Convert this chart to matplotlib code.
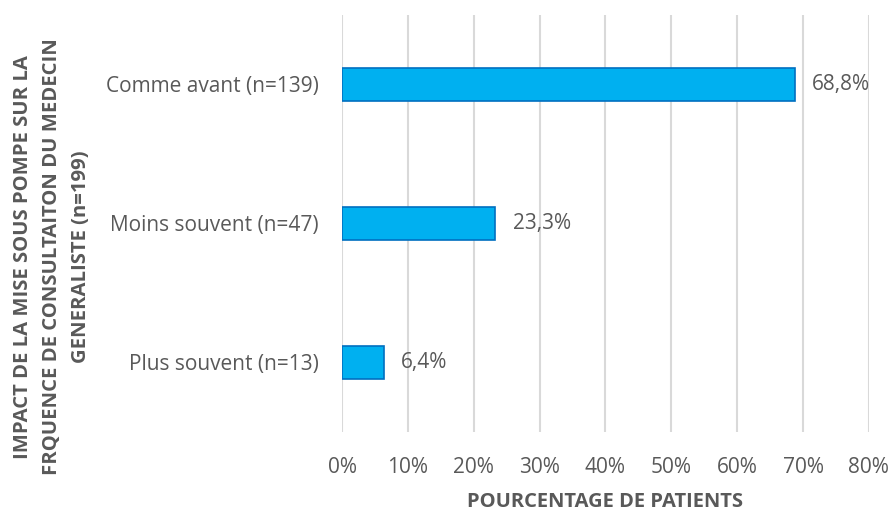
import matplotlib
matplotlib.use("Agg")
import matplotlib.pyplot as plt
from matplotlib.ticker import FuncFormatter

plt.rcParams['font.family'] = ['Open Sans', 'DejaVu Sans']

# data, bottom to top
categories = ["Plus souvent (n=13)", "Moins souvent (n=47)", "Comme avant (n=139)"]
values = [6.4, 23.3, 68.8]
value_labels = ["6,4%", "23,3%", "68,8%"]

grey = "#595959"
fs = 15

fig = plt.figure(figsize=(8.93, 5.14), dpi=100)
ax = fig.add_axes([0.383, 0.160, 0.590, 0.811])

ax.barh(categories, values, height=0.24, color="#00B0F0", edgecolor="#0070C0", linewidth=1.2, zorder=3)
for i, (v, lab) in enumerate(zip(values, value_labels)):
    ax.text(v + 2.6, i, lab, va="center", ha="left", fontsize=fs, color=grey)

ax.set_xlim(0, 80)
ax.set_ylim(-0.5, 2.5)
ax.set_xticks(range(0, 81, 10))
ax.xaxis.set_major_formatter(FuncFormatter(lambda x, p: f"{int(x)}%"))
ax.grid(axis="x", color="#d9d9d9", linewidth=1.5, zorder=0)
ax.tick_params(axis="both", length=0, labelsize=fs, labelcolor=grey)
ax.tick_params(axis="x", pad=18)
ax.tick_params(axis="y", pad=17)
for s in ax.spines.values():
    s.set_visible(False)

ax.set_xlabel("POURCENTAGE DE PATIENTS", fontsize=14.5, fontweight="bold", color=grey, labelpad=10)
fig.text(0.058, 0.50, "IMPACT DE LA MISE SOUS POMPE SUR LA\nFRQUENCE DE CONSULTAITON DU MEDECIN\nGENERALISTE (n=199)",
         rotation=90, ha="center", va="center", multialignment="center",
         fontsize=14.6, fontweight="bold", color=grey, linespacing=1.6)

fig.savefig("out.png", dpi=100)
